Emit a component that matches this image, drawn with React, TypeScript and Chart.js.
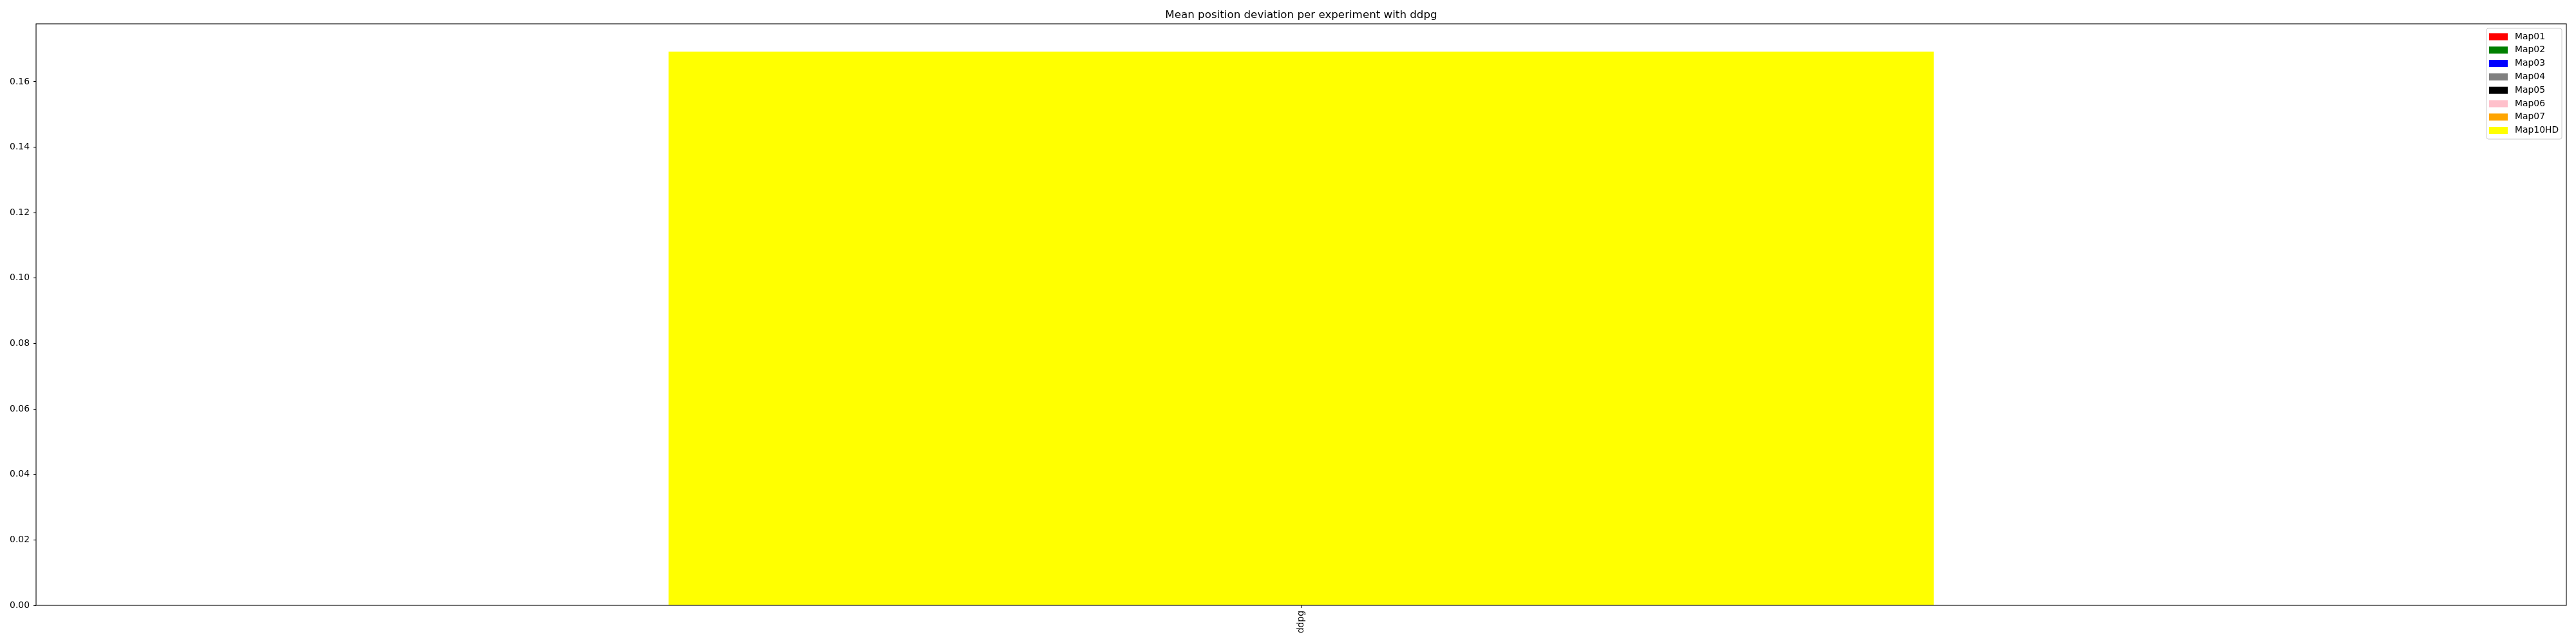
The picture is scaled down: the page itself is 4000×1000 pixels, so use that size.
import React, { useEffect, useRef } from "react";
import { Chart, registerables } from "chart.js";

Chart.register(...registerables);

const categories = ["ddpg"];
const seriesNames = ["Map01", "Map02", "Map03", "Map04", "Map05", "Map06", "Map07", "Map10HD"];
const seriesColors = ["#ff0000", "#008000", "#0000ff", "#808080", "#000000", "#ffc0cb", "#ffa500", "#ffff00"];
const map01 = [0];
const map02 = [0];
const map03 = [0];
const map04 = [0];
const map05 = [0];
const map06 = [0];
const map07 = [0];
const map10hd = [0.1692];
const seriesValues = [map01, map02, map03, map04, map05, map06, map07, map10hd];
const yTicks = [0, 0.02, 0.04, 0.06, 0.08, 0.1, 0.12, 0.14, 0.16];
const titleText = "Mean position deviation per experiment with ddpg";

const FONT = "'DejaVu Sans', sans-serif";

const framePlugin = {
  id: "frame",
  afterDraw(chart: any) {
    const { ctx, chartArea } = chart;
    const { left, top, right, bottom } = chartArea;
    ctx.save();
    ctx.strokeStyle = "#000";
    ctx.lineWidth = 1.1;
    ctx.strokeRect(left, top, right - left, bottom - top);
    // title
    ctx.fillStyle = "#000";
    ctx.font = `16.7px ${FONT}`;
    ctx.textAlign = "center";
    ctx.textBaseline = "alphabetic";
    ctx.fillText(titleText, (left + right) / 2, top - 9);
    // legend
    const boxL = right - 124;
    const boxT = top + 7;
    const boxW = 117;
    const boxH = 172;
    ctx.fillStyle = "rgba(255,255,255,0.8)";
    ctx.strokeStyle = "#cccccc";
    ctx.lineWidth = 1;
    const r = 3;
    ctx.beginPath();
    ctx.moveTo(boxL + r, boxT);
    ctx.lineTo(boxL + boxW - r, boxT);
    ctx.quadraticCurveTo(boxL + boxW, boxT, boxL + boxW, boxT + r);
    ctx.lineTo(boxL + boxW, boxT + boxH - r);
    ctx.quadraticCurveTo(boxL + boxW, boxT + boxH, boxL + boxW - r, boxT + boxH);
    ctx.lineTo(boxL + r, boxT + boxH);
    ctx.quadraticCurveTo(boxL, boxT + boxH, boxL, boxT + boxH - r);
    ctx.lineTo(boxL, boxT + r);
    ctx.quadraticCurveTo(boxL, boxT, boxL + r, boxT);
    ctx.closePath();
    ctx.fill();
    ctx.stroke();
    ctx.font = `13.9px ${FONT}`;
    ctx.textAlign = "left";
    ctx.textBaseline = "middle";
    seriesNames.forEach((name, i) => {
      const cy = boxT + 12.5 + i * 20.8;
      ctx.fillStyle = seriesColors[i];
      ctx.fillRect(boxL + 4, cy - 5, 29, 11);
      ctx.fillStyle = "#000";
      ctx.fillText(name, boxL + 44, cy + 0.5);
    });
    ctx.restore();
  },
};

export default function App() {
  const canvasRef = useRef<HTMLCanvasElement | null>(null);

  useEffect(() => {
    document.body.style.margin = "0";
    const canvas = canvasRef.current;
    if (!canvas) return;
    const chart = new Chart(canvas, {
      type: "bar",
      data: {
        labels: categories,
        datasets: seriesNames.map((name, i) => ({
          label: name,
          data: seriesValues[i],
          backgroundColor: seriesColors[i],
          borderWidth: 0,
          grouped: false,
          barPercentage: 0.5,
          categoryPercentage: 1,
          order: seriesNames.length - i,
        })),
      },
      options: {
        animation: false,
        responsive: true,
        maintainAspectRatio: false,
        layout: { padding: { top: 37, right: 15, left: 0, bottom: 0 } },
        plugins: {
          legend: { display: false },
          title: { display: false },
          tooltip: { enabled: false },
        },
        scales: {
          x: {
            type: "category",
            offset: true,
            afterFit(scale: any) {
              scale.height = 60;
            },
            grid: {
              display: true,
              drawOnChartArea: false,
              drawTicks: true,
              tickLength: 4,
              tickWidth: 1.1,
              tickColor: "#000",
              color: "#000",
              offset: false,
            },
            border: { display: false },
            ticks: {
              color: "#000",
              font: { family: FONT, size: 13.9 },
              maxRotation: 90,
              minRotation: 90,
              padding: 4,
            },
          },
          y: {
            type: "linear",
            min: 0,
            max: 0.1777,
            afterFit(scale: any) {
              scale.width = 56;
            },
            afterBuildTicks(scale: any) {
              scale.ticks = yTicks.map((v) => ({ value: v }));
            },
            grid: {
              display: true,
              drawOnChartArea: false,
              drawTicks: true,
              tickLength: 4,
              tickWidth: 1.1,
              tickColor: "#000",
              color: "#000",
            },
            border: { display: false },
            ticks: {
              color: "#000",
              font: { family: FONT, size: 13.9 },
              padding: 6,
              callback: (v: any) => Number(v).toFixed(2),
            },
          },
        },
      },
      plugins: [framePlugin],
    });
    return () => chart.destroy();
  }, []);

  return (
    <div style={{ position: "absolute", left: 0, top: 0, width: 4000, height: 1000 }}>
      <canvas ref={canvasRef} />
    </div>
  );
}
